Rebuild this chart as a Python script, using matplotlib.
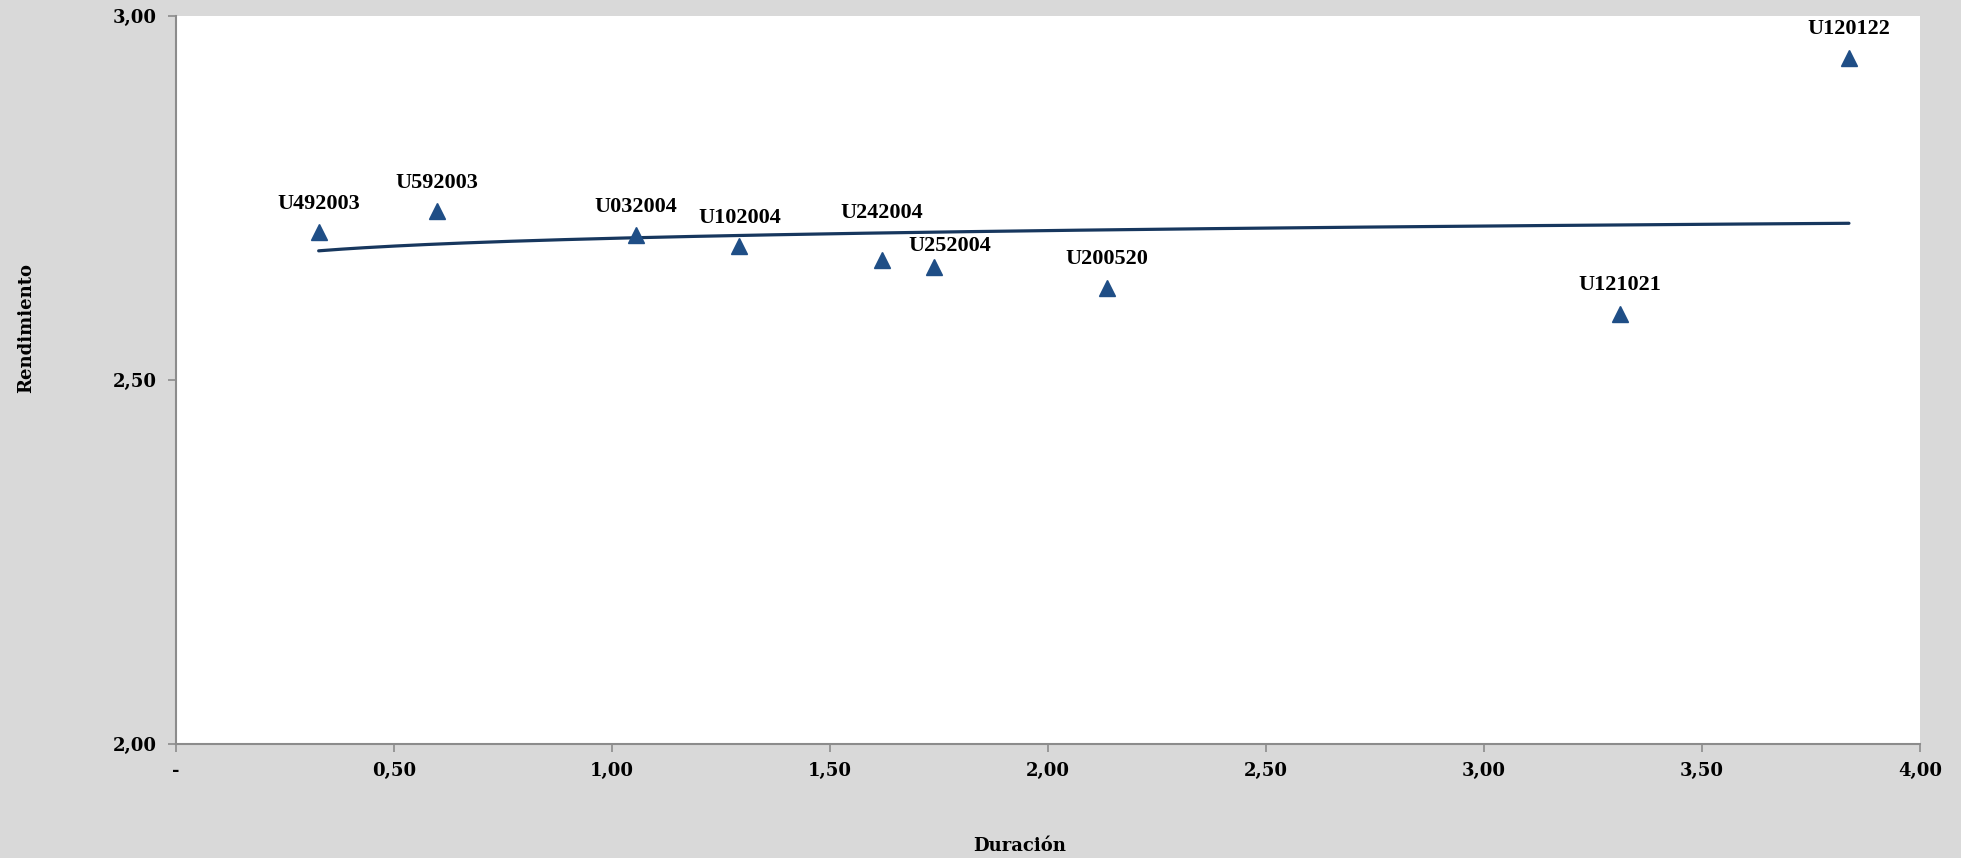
import matplotlib.pyplot as plt
import numpy as np
from matplotlib.ticker import FuncFormatter


# ---------------------------------------------------------------------------
# DATOS
# ---------------------------------------------------------------------------
bonos = ["U492003", "U592003", "U032004", "U102004", "U242004",
         "U252004", "U200520", "U121021", "U120122"]
duracion = [0.327, 0.599, 1.054, 1.292, 1.619, 1.739, 2.135, 3.312, 3.837]
rendimiento = [2.703, 2.732, 2.699, 2.684, 2.665, 2.656, 2.627, 2.591, 2.943]

x_ticks = [0, 0.5, 1.0, 1.5, 2.0, 2.5, 3.0, 3.5, 4.0]
y_ticks = [2.0, 2.5, 3.0]

# desplazamiento de etiquetas (puntos) - Excel movio dos para que no se pisen
ajuste_etiqueta = {"U242004": (0, 13), "U252004": (11, -6)}


# ---------------------------------------------------------------------------
# TENDENCIA LOGARITMICA (como la linea de tendencia de Excel)
# ---------------------------------------------------------------------------
x = np.array(duracion)
y = np.array(rendimiento)
b, a = np.polyfit(np.log(x), y, 1)
xs = np.linspace(x.min(), x.max(), 200)
ys = a + b * np.log(xs)


# ---------------------------------------------------------------------------
# GRAFICO
# ---------------------------------------------------------------------------
serif = "Liberation Serif"
serif_ejes = "DejaVu Serif"
fondo = "#D9D9D9"
gris = "#8C8C8C"
azul = "#1F4E86"

fig = plt.figure(figsize=(19.61, 8.58), dpi=100, facecolor=fondo)
ax = fig.add_axes([0.0898, 0.133, 0.8893, 0.848])
ax.set_facecolor("white")

ax.plot(xs, ys, color="#17375E", lw=2.3, solid_capstyle="round", zorder=2)
ax.plot(x, y, linestyle="none", marker="^", ms=12, color=azul, zorder=3)

for nombre, xi, yi in zip(bonos, duracion, rendimiento):
    dx, dy = ajuste_etiqueta.get(nombre, (0, 0))
    ax.annotate(nombre, (xi, yi), xytext=(dx, 17 + dy),
                textcoords="offset points", ha="center", va="baseline",
                fontsize=16, fontweight="bold", family=serif)

ax.set_xlim(0, 4)
ax.set_ylim(2, 3)
ax.set_xticks(x_ticks)
ax.set_yticks(y_ticks)


def fmt(v, pos):
    if v == 0:
        return "-"
    return f"{v:.2f}".replace(".", ",")


ax.xaxis.set_major_formatter(FuncFormatter(fmt))
ax.yaxis.set_major_formatter(FuncFormatter(fmt))

for s in ["top", "right"]:
    ax.spines[s].set_visible(False)
for s in ["left", "bottom"]:
    ax.spines[s].set_color(gris)
    ax.spines[s].set_linewidth(1.5)

ax.tick_params(direction="out", length=6, width=1.2, color=gris)
ax.tick_params(axis="x", pad=7)
ax.tick_params(axis="y", pad=8)
for lab in ax.get_xticklabels() + ax.get_yticklabels():
    lab.set_family(serif_ejes)
    lab.set_fontweight("bold")
    lab.set_fontsize(13)

fig.text(0.52, 0.014, "Duración", ha="center", va="center",
         fontsize=13, fontweight="bold", family=serif_ejes)
fig.text(0.0135, 0.618, "Rendimiento", ha="center", va="center", rotation=90,
         fontsize=13, fontweight="bold", family=serif_ejes)

fig.savefig("out.png", dpi=100, facecolor=fondo)
